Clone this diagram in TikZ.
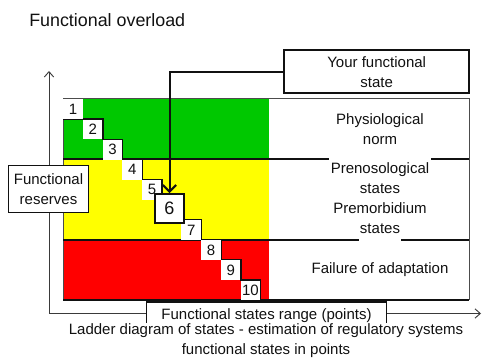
\documentclass[tikz,border=0pt]{standalone}
\usepackage{fontspec}
\setmainfont{Liberation Sans}
\usetikzlibrary{arrows.meta,positioning}
\definecolor{ldInk}{HTML}{111111}
\definecolor{ldAxis}{HTML}{3A3A3A}
\definecolor{ldGreen}{HTML}{00C800}
\definecolor{ldYellow}{HTML}{FFFF00}
\definecolor{ldRed}{HTML}{FF0000}
\newcommand{\lnbox}[1]{{\setlength{\fboxsep}{1pt}\colorbox{white}{\rule[-4.6pt]{0pt}{15.6pt}#1}}}
\tikzset{
  txt/.style={font=\fontsize{11.25pt}{15pt}\selectfont, text=ldInk, align=center, inner sep=0pt},
  sq/.style={txt, fill=white, minimum width=14.8pt, minimum height=15.1pt, anchor=north west},
  bigsq/.style={txt, draw=ldInk, line width=1.8pt, fill=white, minimum size=21.4pt, font=\fontsize{13.5pt}{16pt}\selectfont},
  boxd/.style={txt, draw=ldInk, fill=white},
  axisln/.style={{Straight Barb[length=4pt,width=7pt]}-{Straight Barb[length=4pt,width=7pt]}, draw=ldAxis, line width=0.7pt},
  conn/.style={-{Straight Barb[length=5pt,width=10pt]}, draw=ldInk, line width=1.5pt},
  sepln/.style={draw=ldInk, line width=1.3pt},
  stepln/.style={draw=ldInk, line width=1pt},
}
\begin{document}
\begin{tikzpicture}[x=0.75pt, y=-0.75pt]
  \useasboundingbox (0,0) rectangle (483,360);
  \node[txt, anchor=west, font=\fontsize{13.4pt}{16pt}\selectfont] (title) at (29,20) {Functional overload};
  % axes
  \coordinate (orig) at (49,313.5);
  \coordinate (ytip) at (49,71);
  \coordinate (xtip) at (481,313.5);
  \draw[axisln] (ytip) -- (orig) -- (xtip);
  % bands
  \fill[ldGreen] (63,99) rectangle (268.7,159);
  \fill[ldYellow] (63,159) rectangle (268.7,240);
  \fill[ldRed] (63,240) rectangle (268.7,300);
  \draw[ldInk!75, line width=0.75pt] (63,99) rectangle (469,300);
  \draw[sepln] (63,159) -- (469,159);
  \draw[sepln] (63,240) -- (469,240);
  \draw[sepln] (63,300) -- (469,300);
  % ladder of states
  \node[sq] (s1) at (63,99) {1};
  \draw[stepln] (s1.south west) -- (s1.south east);
  \foreach \n/\x/\y in {2/82.7/119.1, 3/102.4/139.2, 4/122.1/159.3, 5/141.8/179.4, 7/181.2/219.6, 8/200.9/239.7, 9/220.6/259.8, 10/240.3/279.9}{
    \node[sq] (s\n) at (\x,\y) {\n};
    \draw[stepln] (s\n.north west) -- (s\n.north east) -- (s\n.south east);
  }
  \node[bigsq] (s6) at (169.5,208.5) {6};
  % zone labels
  \node[txt] (norm) at (380,129.5) {Physiological\\norm};
  \node[txt] (preno) at (380,199.7) {\lnbox{Prenosological}\\states\\Premorbidium\\\lnbox{states}};
  \node[txt] (fail) at (380,270) {Failure of adaptation};
  \node[boxd, line width=0.8pt, minimum width=60pt, minimum height=35.5pt] (res) at (48.5,189) {Functional\\reserves};
  % your state
  \node[boxd, line width=1.5pt, minimum width=138.5pt, minimum height=32.5pt] (you) at (376.7,71.7) {Your functional\\state};
  \draw[conn] (you.west) -| (s6.north);
  % range and caption
  \node[boxd, line width=0.8pt, minimum width=180pt, minimum height=21pt] (range) at (266.5,316) {Functional states range (points)};
  \node[txt, fill=white, inner sep=1pt] (cap) at (266,341) {Ladder diagram of states - estimation of regulatory systems\\functional states in points};
\end{tikzpicture}
\end{document}
